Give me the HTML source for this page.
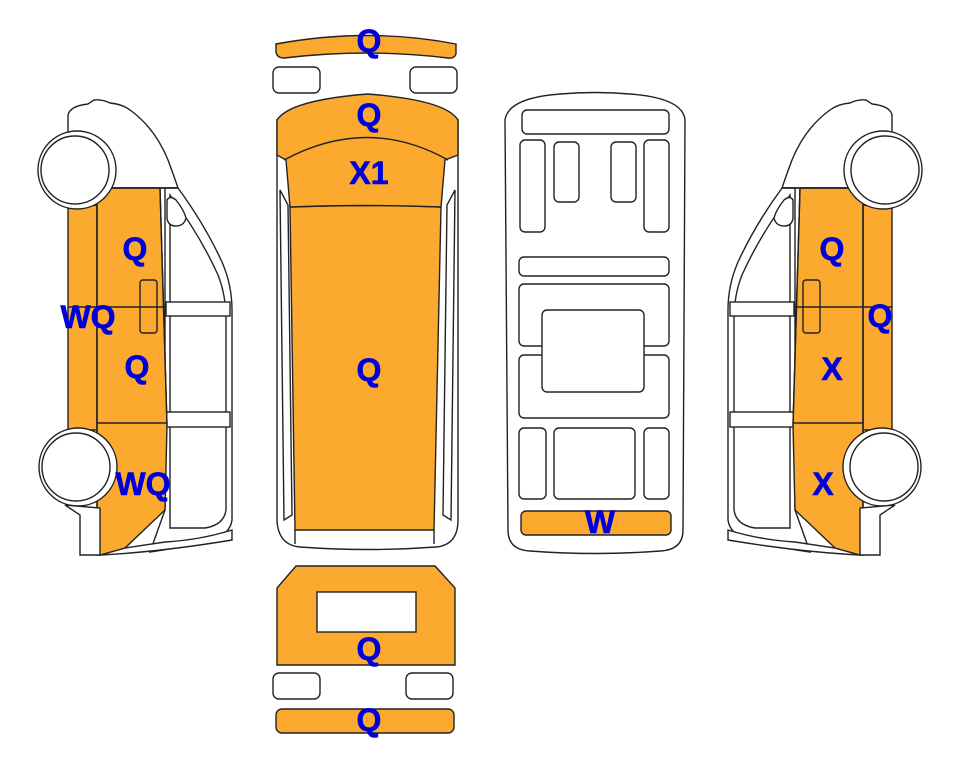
<!DOCTYPE html>
<html><head><meta charset="utf-8"><style>
html,body{margin:0;padding:0;background:#fff;}
svg{display:block;}
text{font-family:"Liberation Sans",Arial,sans-serif;font-weight:bold;font-size:32px;fill:#0000DD;text-anchor:middle;stroke:#0000DD;stroke-width:0.6;}
</style></head><body>
<svg width="963" height="768" viewBox="0 0 963 768" xmlns="http://www.w3.org/2000/svg">
<defs>
<g id="side" stroke="#222" stroke-width="1.4" fill="none">
  <path d="M68,188 L68,115 Q70,106 88,104 L94,100 Q102,99 110,103 Q122,104 130,110 Q155,128 168,160 Q174,176 178,188 Z" fill="#fff"/>
  <path d="M165,188 L178,188 Q205,225 222,262 Q232,285 232,310 L232,520 Q230,535 210,540 Q180,548 150,552 L165,510 Z" fill="#fff"/>
  <path d="M170,195 Q200,235 218,275 Q226,295 226,320 L226,510 Q224,525 205,528 L170,528 Z" fill="#fff"/>
  <path d="M167,200 Q170,195 176,200 Q184,210 186,218 Q184,226 176,226 Q168,226 167,218 Z" fill="#fff"/>
  <rect x="166" y="302" width="64" height="14" fill="#fff"/>
  <rect x="166" y="412" width="64" height="15" fill="#fff"/>
  <path d="M100,555 Q160,552 232,540 L232,530 Q200,540 165,542 L125,548 L100,555 Z" fill="#fff"/>
  <path d="M68,208 L97,205 L97,430 L68,430 Z" fill="#FBA92F"/>
  <path d="M97,188 L160,188 L167,425 L165,510 L125,548 L100,555 L97,555 Z" fill="#FBA92F"/>
  <line x1="97" y1="205" x2="97" y2="555"/>
  <line x1="160" y1="188" x2="167" y2="425"/>
  <line x1="68" y1="307" x2="166" y2="307"/>
  <line x1="97" y1="423" x2="167" y2="423"/>
  <line x1="97" y1="188" x2="178" y2="188"/>
  <rect x="140" y="280" width="17" height="53" rx="3"/>
  <circle cx="77" cy="170" r="39" fill="#fff"/>
  <circle cx="75" cy="170" r="34" fill="#fff"/>
  <circle cx="78" cy="467" r="39" fill="#fff"/>
  <circle cx="76" cy="467" r="34" fill="#fff"/>
  <path d="M65,505 L100,508 L100,555 L80,555 L80,515 Z" fill="#fff"/>
</g>
</defs>

<use href="#side"/>
<use href="#side" transform="translate(960,0) scale(-1,1)"/>

<g stroke="#222" stroke-width="1.4">
  <path d="M276,44 Q368,27 456,44 L456,54 Q454,59 448,58 Q368,48 284,58 Q277,58 276,52 Z" fill="#FBA92F"/>
  <rect x="273" y="67" width="47" height="26" rx="6" fill="#fff"/>
  <rect x="410" y="67" width="47" height="26" rx="6" fill="#fff"/>
  <path d="M277,120 L277,520 Q278,545 300,547 Q368,552 436,547 Q458,545 458,520 L458,120 Z" fill="#fff"/>
  <path d="M280,190 L288,205 L292,515 L284,520 Z" fill="none"/>
  <path d="M455,190 L447,205 L443,515 L451,520 Z" fill="none"/>
  <path d="M290,207 Q368,204 441,207 L434,530 L295,530 Z" fill="#FBA92F"/>
  <line x1="295" y1="530" x2="295" y2="544" />
  <line x1="434" y1="530" x2="434" y2="544" />
  <path d="M277,120 Q290,100 368,94 Q446,100 458,120 L458,155 L445,160 L441,207 Q368,204 290,207 L286,160 L277,155 Z" fill="#FBA92F"/>
  <path d="M284,160 Q368,115 448,160" fill="none"/>
</g>

<g stroke="#222" stroke-width="1.4">
  <path d="M296,566 L435,566 L455,588 L455,665 L277,665 L277,588 Z" fill="#FBA92F"/>
  <rect x="317" y="592" width="99" height="40" fill="#fff"/>
  <rect x="273" y="673" width="47" height="26" rx="6" fill="#fff"/>
  <rect x="406" y="673" width="47" height="26" rx="6" fill="#fff"/>
  <rect x="276" y="709" width="178" height="24" rx="6" fill="#FBA92F"/>
</g>

<g stroke="#222" stroke-width="1.4" fill="#fff">
  <path d="M505,120 Q508,98 560,94 Q595,91 630,94 Q683,98 685,120 L683,530 Q683,550 660,551 Q595,556 530,551 Q508,550 508,530 Z"/>
  <rect x="522" y="110" width="147" height="24" rx="5"/>
  <rect x="520" y="140" width="25" height="92" rx="5"/>
  <rect x="554" y="142" width="25" height="60" rx="5"/>
  <rect x="611" y="142" width="25" height="60" rx="5"/>
  <rect x="644" y="140" width="25" height="92" rx="5"/>
  <rect x="519" y="257" width="150" height="19" rx="5"/>
  <rect x="519" y="284" width="150" height="62" rx="5"/>
  <rect x="519" y="355" width="150" height="63" rx="5"/>
  <rect x="542" y="310" width="102" height="82" rx="5"/>
  <rect x="519" y="428" width="27" height="71" rx="5"/>
  <rect x="554" y="428" width="81" height="71" rx="5"/>
  <rect x="644" y="428" width="25" height="71" rx="5"/>
  <rect x="521" y="511" width="150" height="24" rx="5" fill="#FBA92F"/>
</g>

<text x="369" y="52">Q</text>
<text x="369" y="126">Q</text>
<text x="369" y="184">X1</text>
<text x="369" y="381">Q</text>
<text x="369" y="660">Q</text>
<text x="369" y="731">Q</text>
<text x="600" y="533">W</text>
<text x="135" y="260">Q</text>
<text x="88" y="328">WQ</text>
<text x="137" y="378">Q</text>
<text x="143" y="495">WQ</text>
<text x="832" y="260">Q</text>
<text x="880" y="327">Q</text>
<text x="832" y="380">X</text>
<text x="823" y="495">X</text>
</svg>
</body></html>
